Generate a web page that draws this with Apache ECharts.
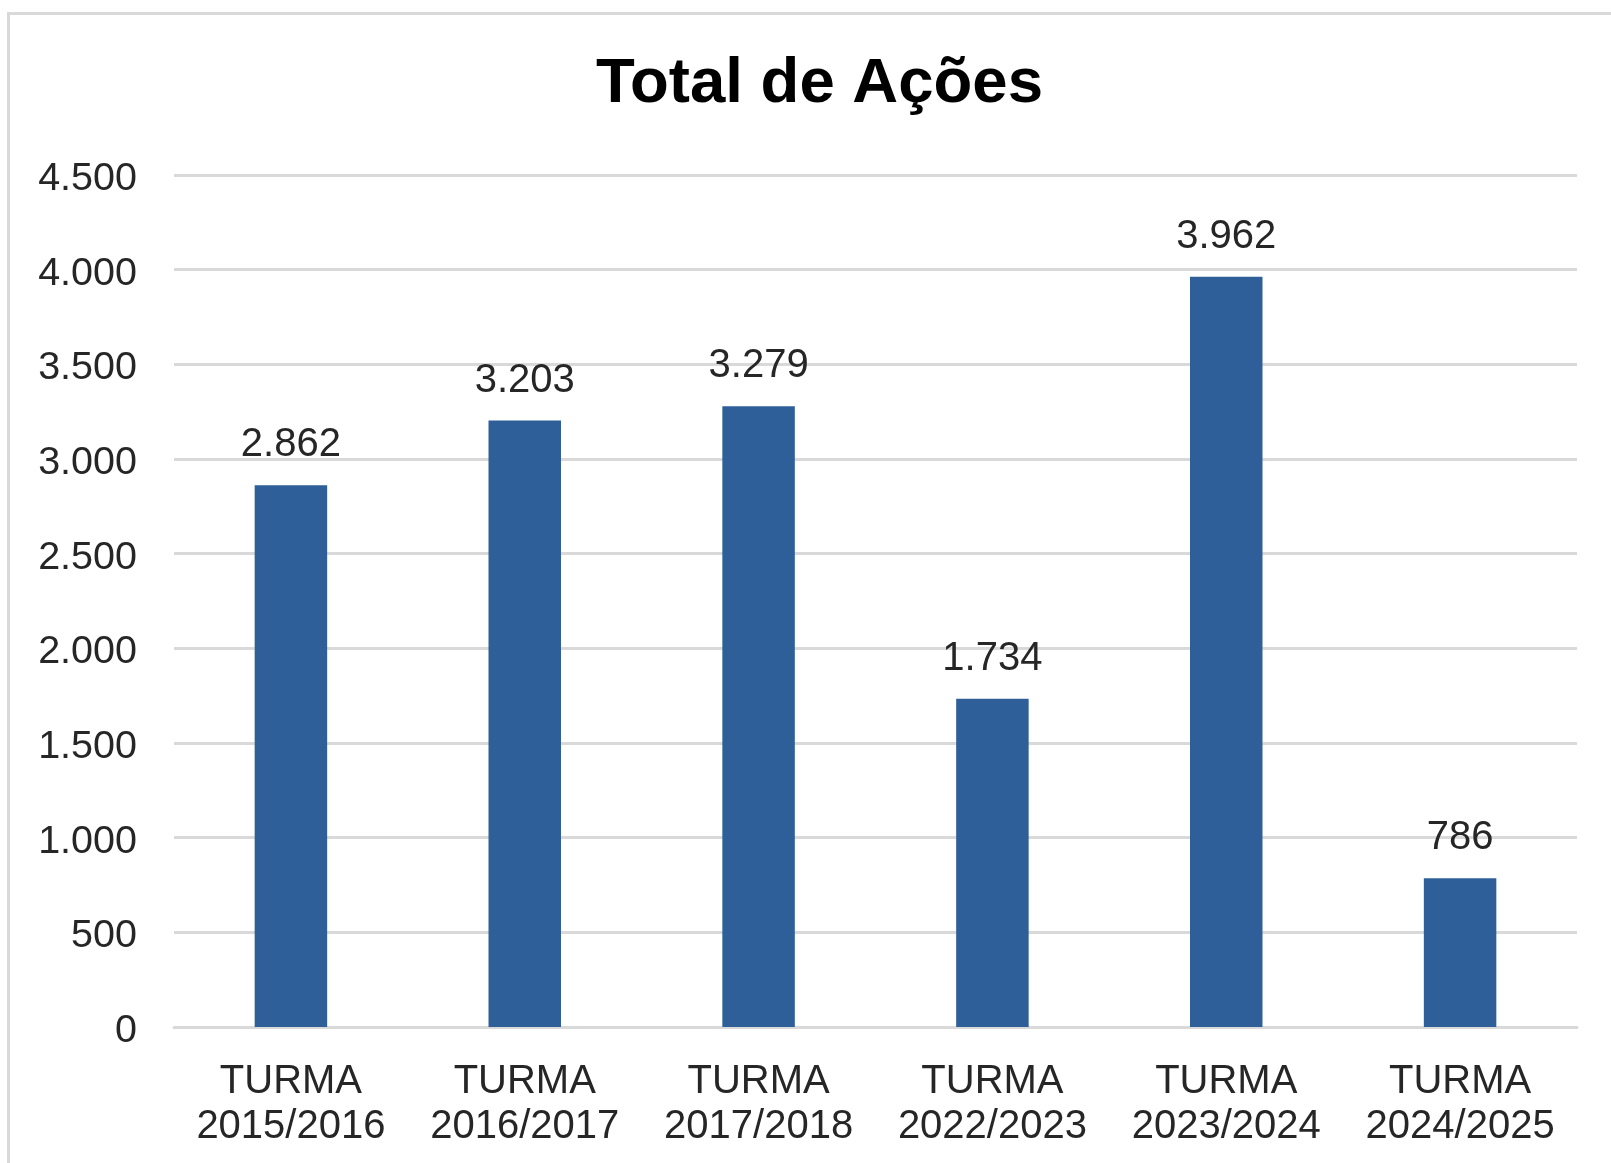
<!DOCTYPE html>
<html>
<head>
<meta charset="utf-8">
<script src="https://cdn.jsdelivr.net/npm/echarts@6/dist/echarts.min.js"></script>
<style>
html,body{margin:0;padding:0;background:#fff;}
#chart{width:1611px;height:1163px;}
</style>
</head>
<body>
<div id="chart"></div>
<script>
const titleText = 'Total de Ações';
const categories = ['TURMA\n2015/2016','TURMA\n2016/2017','TURMA\n2017/2018','TURMA\n2022/2023','TURMA\n2023/2024','TURMA\n2024/2025'];
const values = [2862, 3203, 3279, 1734, 3962, 786];
const yMin = 0, yMax = 4500, yStep = 500;

function fmt(v){ return String(v).replace(/\B(?=(\d{3})+(?!\d))/g, '.'); }

const chart = echarts.init(document.getElementById('chart'), null, {renderer:'canvas'});
const font = '"Liberation Sans", Arial, sans-serif';
chart.setOption({
  animation:false,
  backgroundColor:'#ffffff',
  textStyle:{fontFamily:font},
  graphic:[{
    type:'rect', z:-10, silent:true,
    shape:{x:8.5, y:13.5, width:1700, height:1300},
    style:{fill:'none', stroke:'#d9d9d9', lineWidth:3}
  }],
  title:{
    text:titleText, left:591, top:47,
    textStyle:{fontFamily:font, fontSize:63.5, fontWeight:'bold', color:'#000'}
  },
  grid:{left:174, right:34, top:175, bottom:136, containLabel:false},
  xAxis:{
    type:'category', data:categories,
    axisLine:{show:true, lineStyle:{color:'#d9d9d9', width:3}},
    axisTick:{show:false},
    axisLabel:{fontFamily:font, fontSize:40, color:'#262626', lineHeight:45, margin:32, interval:0}
  },
  yAxis:{
    type:'value', min:yMin, max:yMax, interval:yStep,
    axisLine:{show:false}, axisTick:{show:false},
    splitLine:{lineStyle:{color:'#d9d9d9', width:3}},
    axisLabel:{fontFamily:font, fontSize:39.5, color:'#262626', margin:37, verticalAlign:'top', lineHeight:8, formatter:fmt}
  },
  series:[{
    type:'bar', data:values, barWidth:'31%',
    itemStyle:{color:'#2e5f98'},
    label:{show:true, position:'top', distance:20, fontFamily:font, fontSize:40, color:'#262626',
      formatter:p=>fmt(p.value)}
  }]
});
</script>
</body>
</html>
